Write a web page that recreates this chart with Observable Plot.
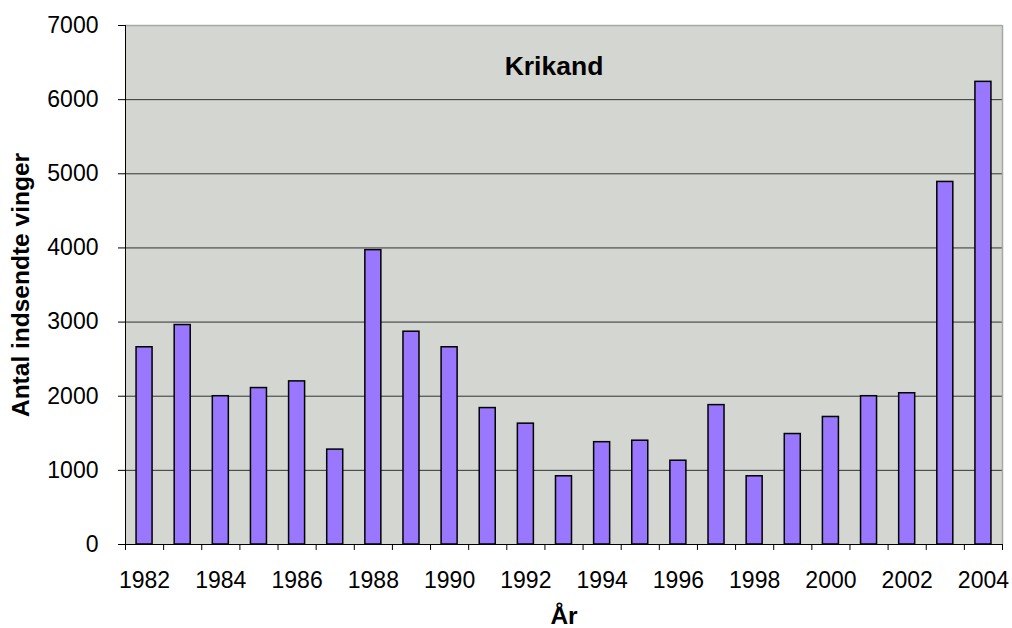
<!DOCTYPE html>
<html>
<head>
<meta charset="utf-8">
<script src="https://cdn.jsdelivr.net/npm/d3@7"></script>
<script src="https://cdn.jsdelivr.net/npm/@observablehq/plot@0.6"></script>
<style>
  html, body { margin: 0; padding: 0; background: white; }
</style>
</head>
<body>
<div id="chart"></div>
<script>
const years = [1982, 1983, 1984, 1985, 1986, 1987, 1988, 1989, 1990, 1991, 1992, 1993,
               1994, 1995, 1996, 1997, 1998, 1999, 2000, 2001, 2002, 2003, 2004];
const counts = [2660, 2960, 2000, 2110, 2200, 1280, 3970, 2870, 2660, 1840, 1630, 920,
                1380, 1400, 1130, 1880, 920, 1490, 1720, 2000, 2040, 4890, 6240];
const yTicks = [0, 1000, 2000, 3000, 4000, 5000, 6000, 7000];
const gridTicks = [1000, 2000, 3000, 4000, 5000, 6000];
const xLabelYears = [1982, 1984, 1986, 1988, 1990, 1992, 1994, 1996, 1998, 2000, 2002, 2004];
const title = "Krikand";
const yTitle = "Antal indsendte vinger";
const xTitle = "År";

const data = years.map((year, i) => ({year, value: counts[i]}));
const boundaries = years.map(y => y - 0.5).concat([years[years.length - 1] + 0.5]);
const halfBar = 0.21;

const chart = Plot.plot({
  width: 1012,
  height: 628,
  marginLeft: 125,
  marginRight: 10,
  marginTop: 25,
  marginBottom: 84,
  x: {domain: [years[0] - 0.5, years[years.length - 1] + 0.5]},
  y: {domain: [0, 7000]},
  style: {fontFamily: "'Liberation Sans', Arial, sans-serif", background: "white", color: "black"},
  marks: [
    Plot.frame({fill: "#d4d6d1", stroke: null}),
    Plot.ruleY(gridTicks, {stroke: "#333333", strokeWidth: 1}),
    Plot.ruleY([7000], {stroke: "#a8a8a8", strokeWidth: 1.5}),
    Plot.ruleX([years[years.length - 1] + 0.5], {stroke: "#a8a8a8", strokeWidth: 1.5}),
    Plot.rectY(data, {
      x1: d => d.year - halfBar,
      x2: d => d.year + halfBar,
      y1: 0,
      y2: "value",
      fill: "#9977ff",
      stroke: "black",
      strokeWidth: 1.5
    }),
    Plot.ruleX([years[0] - 0.5], {stroke: "black", strokeWidth: 1}),
    Plot.ruleY([0], {stroke: "black", strokeWidth: 1}),
    Plot.axisY({ticks: yTicks, tickSize: 7, tickPadding: 20, fontSize: 23, tickFormat: d => String(d), label: null, stroke: "black"}),
    Plot.axisX({ticks: boundaries, tickSize: 6, tickFormat: () => "", label: null, stroke: "black"}),
    Plot.axisX({ticks: xLabelYears, tickSize: 0, tickPadding: 27, fontSize: 23, tickFormat: d => String(d), label: null}),
    Plot.text([title], {frameAnchor: "top", dx: -10, dy: 31, fontSize: 26.5, fontWeight: "bold", fill: "black"}),
    Plot.text([yTitle], {frameAnchor: "left", textAnchor: "middle", dx: -104, rotate: -90, fontSize: 24.5, fontWeight: "bold", fill: "black"}),
    Plot.text([xTitle], {frameAnchor: "bottom", dy: 79, fontSize: 24.5, fontWeight: "bold", fill: "black"})
  ]
});
document.getElementById("chart").appendChild(chart);
</script>
</body>
</html>
